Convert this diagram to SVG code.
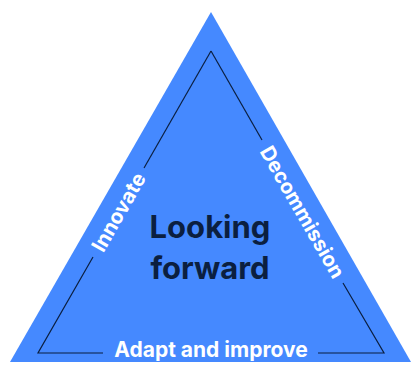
<svg xmlns="http://www.w3.org/2000/svg" width="411" height="365" viewBox="0 0 411 365">
  <style>
    .side { font-family: Inter, "Noto Sans", "Liberation Sans", sans-serif; font-weight: 700; font-size: 20.5px; fill: #ffffff; text-anchor: middle; }
    .base { font-size: 21px; }
    .main { font-family: Inter, "Noto Sans", "Liberation Sans", sans-serif; font-weight: 700; font-size: 31px; fill: #0b1f40; text-anchor: middle; }
    .inner { stroke: #0b1f40; stroke-width: 1.2; fill: none; }
  </style>
  <g id="triangle">
    <polygon points="211,12 411,362 10,362" fill="#4589ff"/>
  </g>
  <g id="connectors">
    <polyline class="inner" points="93,257 38,353 103,353"/>
    <line class="inner" x1="144" y1="168" x2="211" y2="51"/>
    <line class="inner" x1="211" y1="51" x2="262" y2="140"/>
    <polyline class="inner" points="343,283 384,353 318,353"/>
  </g>
  <g id="innovate">
    <text class="side" transform="translate(118.5,212) rotate(-60.2)" dy="0.36em">Innovate</text>
  </g>
  <g id="decommission">
    <text class="side" transform="translate(302.5,212) rotate(60.2)" dy="0.36em">Decommission</text>
  </g>
  <g id="adapt">
    <text class="side base" x="211" y="357">Adapt and improve</text>
  </g>
  <g id="center">
    <text class="main" x="210" y="238">Looking</text>
    <text class="main" x="210" y="279">forward</text>
  </g>
</svg>
